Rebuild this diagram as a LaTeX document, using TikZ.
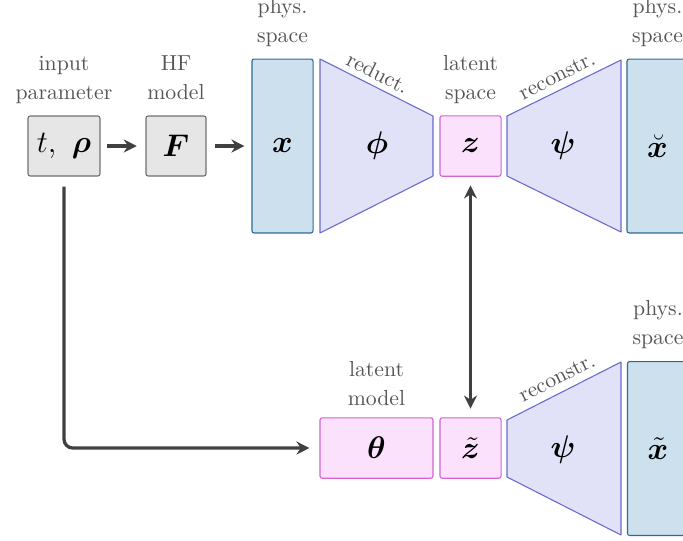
\documentclass[tikz,border=0pt]{standalone}
\usepackage{amsmath,bm}
\usetikzlibrary{arrows.meta}

\definecolor{lblgray}{HTML}{555555}
\definecolor{arrgray}{HTML}{404040}
\definecolor{grayfill}{HTML}{E6E6E6}
\definecolor{graydraw}{HTML}{707070}
\definecolor{bluefill}{HTML}{CCE0EE}
\definecolor{bluedraw}{HTML}{2F6A92}
\definecolor{trapfill}{HTML}{E1E1F8}
\definecolor{trapdraw}{HTML}{6A6ACF}
\definecolor{pinkfill}{HTML}{FCE1FC}
\definecolor{pinkdraw}{HTML}{D464D4}

\tikzset{
  box/.style={draw, rounded corners=1pt, line width=0.5pt, inner sep=0pt,
    font=\Large},
  graybox/.style={box, fill=grayfill, draw=graydraw,
    minimum width=33.1pt, minimum height=27.6pt},
  smallgray/.style={box, fill=grayfill, draw=graydraw,
    minimum width=27.6pt, minimum height=27.6pt},
  physbox/.style={box, fill=bluefill, draw=bluedraw,
    minimum width=28.1pt, minimum height=80pt},
  latbox/.style={box, fill=pinkfill, draw=pinkdraw,
    minimum width=28.1pt, minimum height=27.8pt},
  modbox/.style={box, fill=pinkfill, draw=pinkdraw,
    minimum width=52pt, minimum height=27.8pt},
  trap/.style={fill=trapfill, draw=trapdraw, line width=0.5pt, line join=round},
  sym/.style={font=\Large, inner sep=0pt},
  lbl/.style={text=lblgray, align=center, anchor=south, inner sep=0pt,
    text depth=0pt, font={\fontsize{10}{13.3}\selectfont}},
  slant/.style={text=lblgray, inner sep=0pt, font=\normalsize},
  arr/.style={draw=arrgray, line width=1.5pt,
    -{Stealth[length=6pt,width=6pt,inset=2pt]}},
  dblarr/.style={draw=arrgray, line width=1.5pt,
    {Stealth[length=6pt,width=6pt,inset=2pt]}-{Stealth[length=6pt,width=6pt,inset=2pt]}},
}

\begin{document}
\begin{tikzpicture}[x=0.46pt,y=-0.46pt]
\useasboundingbox (0,0) rectangle (683,540);
\clip (0,0) rectangle (683,540);

% ---------- upper row: full-order pipeline and autoencoder ----------
\node[graybox]  (tr)  at (64,146)    {$t,\ \bm{\rho}$};
\node[smallgray] (F)  at (176,146)   {$\bm{F}$};
\node[physbox]  (xp)  at (282.5,146) {$\bm{x}$};

\draw[trap] (320,59) -- (433,116) -- (433,176) -- (320,233) -- cycle;
\node[sym] (phi) at (377,146) {$\bm{\phi}$};

\node[latbox]   (z)   at (470.5,146) {$\bm{z}$};

\draw[trap] (507,116) -- (621,60) -- (621,232) -- (507,176) -- cycle;
\node[sym] (psia) at (563,146) {$\bm{\psi}$};

\node[physbox]  (xb)  at (657.5,146) {$\breve{\bm{x}}$};

% labels of the upper row
\node[lbl] (ltr) at (64,100)    {input\\parameter};
\node[lbl] (lF)  at (176,100)   {HF\\model};
\node[lbl] (lxp) at (282.5,43)  {phys.\\space};
\node[lbl] (lz)  at (470.5,100) {latent\\space};
\node[lbl] (lxb) at (657.5,43)  {phys.\\space};
\node[slant, rotate=-26.8] (lphi)  at (378,73) {reduct.};
\node[slant, rotate=26.8]  (lpsia) at (557,76) {reconstr.};

% ---------- lower row: latent dynamics and reconstruction ----------
\node[modbox]  (th) at (376.5,448) {$\bm{\theta}$};
\node[latbox]  (zt) at (470.5,448) {$\tilde{\bm{z}}$};

\draw[trap] (507,420) -- (621,362) -- (621,535) -- (507,477) -- cycle;
\node[sym] (psib) at (563,450) {$\bm{\psi}$};

\node[physbox] (xt) at (658,448.5) {$\tilde{\bm{x}}$};

% labels of the lower row
\node[lbl] (lth) at (376.5,406) {latent\\model};
\node[lbl] (lxt) at (658,345)   {phys.\\space};
\node[slant, rotate=26.8] (lpsib) at (557,378) {reconstr.};

% ---------- connectors ----------
\draw[arr, shorten <=3.2pt, shorten >=4pt]   (tr) -- (F);
\draw[arr, shorten <=3.7pt, shorten >=3.2pt] (F) -- (xp);
\draw[dblarr, shorten <=4pt, shorten >=4pt]  (z) -- (zt);
\draw[arr, rounded corners=4pt, shorten <=4.6pt, shorten >=4.6pt]
  (tr.south) |- (th.west);
\end{tikzpicture}
\end{document}
